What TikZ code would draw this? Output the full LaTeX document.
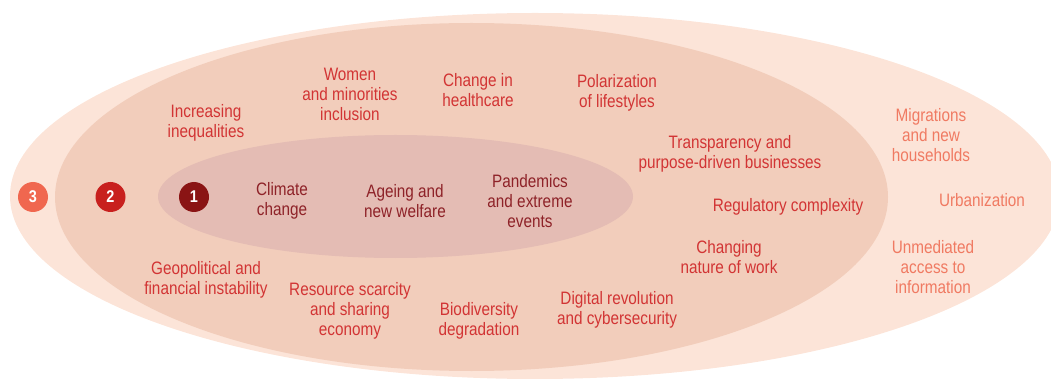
\documentclass[tikz,border=0pt]{standalone}
\usepackage{fontspec}
\setmainfont{Liberation Sans}[FakeStretch=0.85]
\definecolor{ringA}{HTML}{FCE4D8}
\definecolor{ringB}{HTML}{F2CDBB}
\definecolor{ringC}{HTML}{E4BCB4}
\definecolor{numA}{HTML}{F0674F}
\definecolor{numB}{HTML}{C8201E}
\definecolor{numC}{HTML}{8A1414}
\definecolor{txtA}{HTML}{F07A62}
\definecolor{txtB}{HTML}{D23434}
\definecolor{txtC}{HTML}{8E2228}
\tikzset{
  lbl/.style={align=center,font=\fontsize{18}{20}\selectfont,inner sep=0pt,yshift=-2pt},
  lblA/.style={lbl,text=txtA},
  lblB/.style={lbl,text=txtB},
  lblC/.style={lbl,text=txtC},
  num/.style={circle,minimum size=30pt,inner sep=0pt,text=white,font=\fontsize{17}{17}\selectfont\bfseries}
}
\begin{document}
\begin{tikzpicture}[x=1pt,y=-1pt]
\useasboundingbox (0,0) rectangle (1051,379);
\clip (0,0) rectangle (1051,379);
\fill[ringA] (535,196) ellipse [x radius=525, y radius=183];
\fill[ringB] (471.5,197) ellipse [x radius=416.5, y radius=174];
\fill[ringC] (395.5,196.5) ellipse [x radius=237.5, y radius=61.5];
\node[num,fill=numA] (n3) at (33,197) {3};
\node[num,fill=numB] (n2) at (110.5,197) {2};
\node[num,fill=numC] (n1) at (194,197) {1};
% inner ring
\node[lblC] (climate) at (282,199) {Climate\\change};
\node[lblC] (ageing) at (405,199) {Ageing and\\new welfare};
\node[lblC] (pandemics) at (530,199) {Pandemics\\and extreme\\events};
% middle ring
\node[lblB] (inequal) at (206,121) {Increasing\\inequalities};
\node[lblB] (women) at (350,92) {Women\\and minorities\\inclusion};
\node[lblB] (health) at (478,88) {Change in\\healthcare};
\node[lblB] (polar) at (617,91) {Polarization\\of lifestyles};
\node[lblB] (transp) at (730,152) {Transparency and\\purpose-driven businesses};
\node[lblB] (regul) at (788,205) {Regulatory complexity};
\node[lblB] (work) at (729,255) {Changing\\nature of work};
\node[lblB] (digital) at (617,308) {Digital revolution\\and cybersecurity};
\node[lblB] (biodiv) at (479,319) {Biodiversity\\degradation};
\node[lblB] (resource) at (350,309) {Resource scarcity\\and sharing\\economy};
\node[lblB] (geopol) at (206,278) {Geopolitical and\\financial instability};
% outer ring
\node[lblA] (migr) at (931,133) {Migrations\\and new\\households};
\node[lblA] (urban) at (982,198) {Urbanization};
\node[lblA] (unmed) at (933,265) {Unmediated\\access to\\information};
\end{tikzpicture}
\end{document}
